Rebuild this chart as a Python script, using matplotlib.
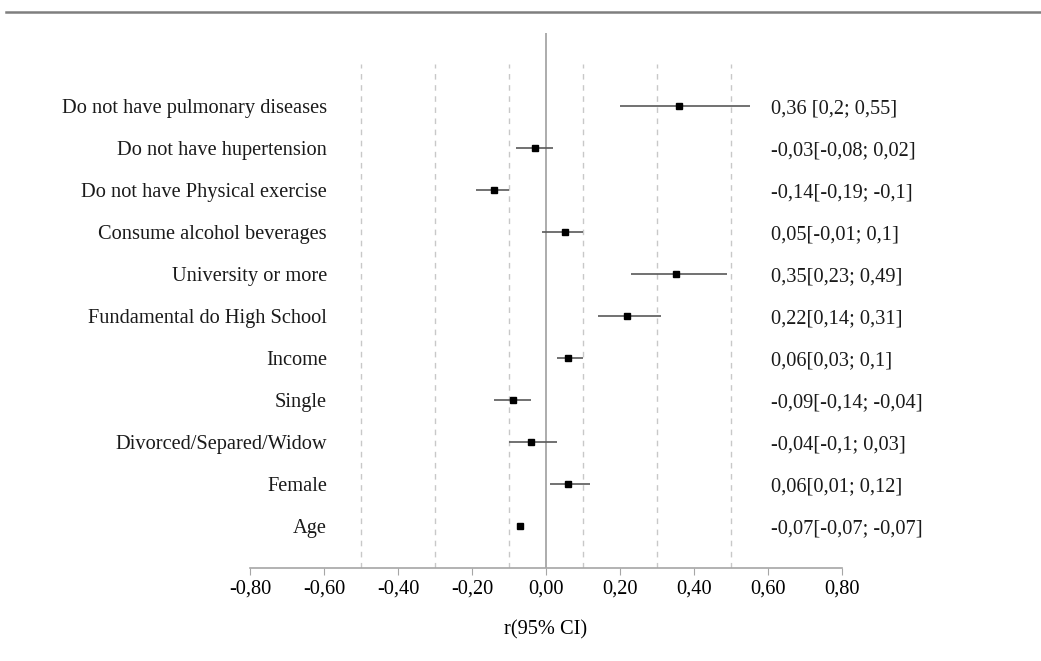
import matplotlib
matplotlib.use("Agg")
from matplotlib import pyplot as plt
from matplotlib.lines import Line2D

labels = ["Do not have pulmonary diseases", "Do not have hupertension",
          "Do not have Physical exercise", "Consume alcohol beverages",
          "University or more", "Fundamental do High School", "Income",
          "Single", "Divorced/Separed/Widow", "Female", "Age"]
r = [0.36, -0.03, -0.14, 0.05, 0.35, 0.22, 0.06, -0.09, -0.04, 0.06, -0.07]
lo = [0.20, -0.08, -0.19, -0.01, 0.23, 0.14, 0.03, -0.14, -0.10, 0.01, -0.07]
hi = [0.55, 0.02, -0.10, 0.10, 0.49, 0.31, 0.10, -0.04, 0.03, 0.12, -0.07]
ci_text = ["0,36 [0,2; 0,55]", "-0,03[-0,08; 0,02]", "-0,14[-0,19; -0,1]",
           "0,05[-0,01; 0,1]", "0,35[0,23; 0,49]", "0,22[0,14; 0,31]",
           "0,06[0,03; 0,1]", "-0,09[-0,14; -0,04]", "-0,04[-0,1; 0,03]",
           "0,06[0,01; 0,12]", "-0,07[-0,07; -0,07]"]
xticks = [-0.8, -0.6, -0.4, -0.2, 0.0, 0.2, 0.4, 0.6, 0.8]
grid_x = [-0.5, -0.3, -0.1, 0.1, 0.3, 0.5]

plt.rcParams['font.family'] = ['Liberation Serif', 'DejaVu Serif']
fs = 14.7

W, H = 1041, 661
fig = plt.figure(figsize=(W / 100, H / 100), dpi=100)
ax = fig.add_axes([250 / W, (H - 568) / H, 592 / W, 535 / H])

n = len(labels)
ypos = [n - i for i in range(n)]

ax.vlines(grid_x, 0, 12, colors="#c8c8c8", linestyles=(0, (4, 4)), lw=1)
ax.axvline(0, color="#a6a6a6", lw=1.3)

for y, v, a, b in zip(ypos, r, lo, hi):
    ax.plot([a, b], [y, y], color="#595959", lw=1.2, solid_capstyle="butt")
    ax.plot(v, y, marker="s", color="black", markersize=5, linestyle="none")

for y, lab, txt in zip(ypos, labels, ci_text):
    ax.text(0.13, y, lab, transform=ax.get_yaxis_transform(), ha="right",
            va="center_baseline", fontsize=fs, color="#1a1a1a")
    ax.text(0.880, y, txt, transform=ax.get_yaxis_transform(), ha="left",
            va="center_baseline", fontsize=fs, color="#1a1a1a")

ax.set_xlim(-0.8, 0.8)
ax.set_ylim(0, 12.74)
ax.set_xticks(xticks)
ax.set_xticklabels([("%.2f" % t).replace(".", ",") for t in xticks], fontsize=fs)
ax.set_yticks([])
ax.tick_params(axis="x", direction="out", length=5, color="#a6a6a6", pad=3)
for s in ["top", "left", "right"]:
    ax.spines[s].set_visible(False)
ax.spines["bottom"].set_color("#a6a6a6")
ax.spines["bottom"].set_linewidth(1.2)
ax.set_xlabel("r(95% CI)", fontsize=fs, labelpad=16)

fig.add_artist(Line2D([6 / W, 1], [(H - 12) / H] * 2, color="#7f7f7f", lw=1.8))

fig.savefig("out.png", dpi=100)
